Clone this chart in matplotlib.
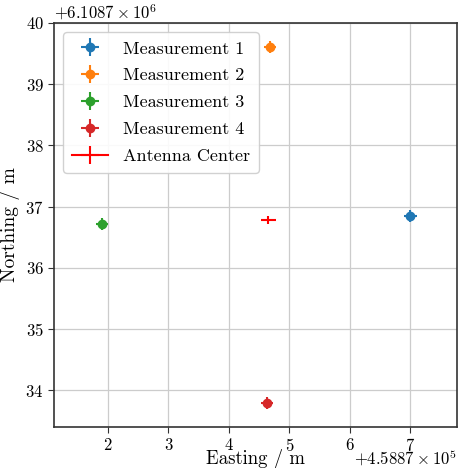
import matplotlib as mpl
mpl.use("Agg")
import matplotlib.pyplot as plt

mpl.rcParams.update({
    "font.family": "serif",
    "font.serif": ["cmr10", "DejaVu Serif"],
    "mathtext.fontset": "cm",
    "axes.formatter.use_mathtext": True,
    "axes.unicode_minus": False,
})

X0, Y0 = 458870.0, 6108700.0
labels = ["Measurement 1", "Measurement 2", "Measurement 3", "Measurement 4"]
east = [7.0, 4.68, 1.9, 4.63]
north = [36.84, 39.61, 36.72, 33.79]
east_err = [0.1, 0.1, 0.1, 0.1]
north_err = [0.1, 0.1, 0.1, 0.1]
colors = ["#1f77b4", "#ff7f0e", "#2ca02c", "#d62728"]

ant_e, ant_n = 4.65, 36.78
ant_e_err, ant_n_err = 0.12, 0.07

fig = plt.figure(figsize=(4.58, 4.68), dpi=100)
ax = fig.add_axes([0.118, 0.088, 0.88, 0.863])

for lab, e, n, ee, ne, c in zip(labels, east, north, east_err, north_err, colors):
    ax.errorbar(X0 + e, Y0 + n, xerr=ee, yerr=ne, fmt="o", color=c, ms=6,
                elinewidth=1.5, capsize=0, label=lab, zorder=3)
# single point with a line style: legend shows a full-width line
ax.errorbar(X0 + ant_e, Y0 + ant_n, xerr=ant_e_err, yerr=ant_n_err, fmt="-",
            color="red", lw=1.5, elinewidth=1.5, capsize=0, label="Antenna Center", zorder=3)

ax.set_xlim(X0 + 1.11, X0 + 7.77)
ax.set_ylim(Y0 + 33.4, Y0 + 40.0)
ax.grid(True, color="#cccccc", lw=0.9)
ax.set_axisbelow(True)
for s in ax.spines.values():
    s.set_color("#333333")
    s.set_linewidth(1.2)
ax.tick_params(labelsize=12, length=4, color="#333333")
ax.xaxis.get_offset_text().set_fontsize(12)
ax.yaxis.get_offset_text().set_fontsize(12)
ax.xaxis.OFFSETTEXTPAD = -5
ax.set_xlabel("Easting / m", fontsize=13.5, labelpad=-4)
ax.set_ylabel("Northing / m", fontsize=14)

ax.legend(loc="upper left", fontsize=13, framealpha=0.9, borderpad=0.5, labelspacing=0.62)
fig.savefig("out.png", dpi=100)
